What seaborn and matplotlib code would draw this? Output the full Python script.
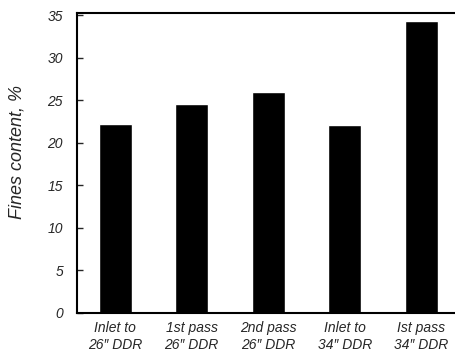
import numpy as np
import pandas as pd
import matplotlib
matplotlib.use('Agg')
import matplotlib.pyplot as plt
import seaborn as sns

# datos
etapas = ['Inlet to\n26\u2033 DDR', '1st pass\n26\u2033 DDR', '2nd pass\n26\u2033 DDR',
          'Inlet to\n34\u2033 DDR', 'Ist pass\n34\u2033 DDR']
finos = [22.2, 24.6, 26.0, 22.1, 34.4]

sns.set_style('white')
plt.rcParams['font.family'] = ['Liberation Sans', 'DejaVu Sans']

df = pd.DataFrame({'etapa': etapas, 'finos': finos})

fig = plt.figure(figsize=(4.55, 3.56), dpi=100)
ax = fig.add_axes([0.169, 0.1208, 0.841, 0.843])

sns.barplot(data=df, x='etapa', y='finos', color='black', width=0.43,
            saturation=1, ax=ax)

ax.set_xlim(-0.5, 4.5)
ax.set_ylim(0, 35.3)
ax.set_yticks(np.arange(0, 36, 5))
ax.tick_params(axis='y', direction='in', length=4, width=1, left=True,
               labelsize=10, pad=10)
ax.tick_params(axis='x', length=0, labelsize=10, pad=6)
for lab in ax.get_xticklabels() + ax.get_yticklabels():
    lab.set_fontstyle('italic')
ax.set_xlabel('')
ax.set_ylabel('Fines content, %', fontsize=13, fontstyle='italic')
ax.yaxis.set_label_coords(-0.135, 0.537)

for s in ax.spines.values():
    s.set_color('black')
    s.set_linewidth(1.5)

fig.savefig('out.png', dpi=100)
